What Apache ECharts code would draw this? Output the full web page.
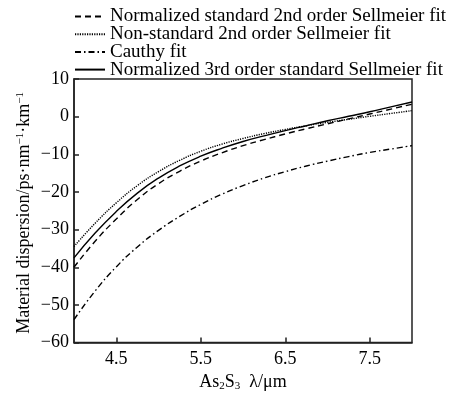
<!DOCTYPE html>
<html><head><meta charset="utf-8">
<script src="https://cdn.jsdelivr.net/npm/echarts@6/dist/echarts.min.js"></script>
<style>html,body{margin:0;padding:0;background:#fff}#c{width:456px;height:397px}</style>
</head><body><div id="c"></div>
<script>
const wavelengths = [4.0, 4.25, 4.5, 4.75, 5.0, 5.25, 5.5, 5.75, 6.0, 6.25, 6.5, 6.75, 7.0, 7.25, 7.5, 7.75, 8.0];
const normStd2nd = [-40.0, -33.1, -27.2, -22.0, -17.8, -14.5, -11.8, -9.6, -7.7, -6.1, -4.6, -3.2, -1.9, -0.6, 0.7, 2.0, 3.3];
const nonStd2nd  = [-34.5, -28.3, -22.9, -18.3, -14.6, -11.6, -9.2, -7.3, -5.8, -4.5, -3.4, -2.4, -1.5, -0.7, 0.1, 0.85, 1.6];
const cauchy     = [-53.9, -46.3, -39.9, -34.6, -30.2, -26.5, -23.3, -20.6, -18.3, -16.3, -14.6, -13.1, -11.8, -10.6, -9.5, -8.6, -7.7];
const normStd3rd = [-37.5, -30.9, -25.2, -20.3, -16.3, -13.1, -10.5, -8.4, -6.6, -5.1, -3.7, -2.4, -1.1, 0.1, 1.3, 2.6, 3.9];
const seriesNames = [
  'Normalized standard 2nd order Sellmeier fit',
  'Non-standard 2nd order Sellmeier fit',
  'Cauthy fit',
  'Normalized 3rd order standard Sellmeier fit'
];
const xTicks = [4.5, 5.5, 6.5, 7.5];

const FONT = 'Liberation Serif';
const pair = arr => wavelengths.map((x, i) => [x, arr[i]]);
const mk = (name, data, type, w) => ({
  name, type: 'line', data: pair(data), smooth: 0.5, symbol: 'none',
  lineStyle: { color: '#000', width: w, type }, itemStyle: { color: '#000' }
});

const chart = echarts.init(document.getElementById('c'));
chart.setOption({
  animation: false,
  backgroundColor: '#fff',
  grid: { left: 74, right: 44, top: 79, bottom: 50, show: true, borderColor: '#222', borderWidth: 1.5 },
  legend: {
    orient: 'vertical', left: 69, top: 2, itemWidth: 30, itemHeight: 10, itemGap: -1.3,
    itemStyle: { opacity: 0 },
    textStyle: { fontFamily: FONT, fontSize: 19, color: '#000' },
    data: seriesNames
  },
  xAxis: {
    type: 'value', min: 4, max: 8,
    name: 'As{s|2}S{s|3}  λ/μm', nameLocation: 'middle', nameGap: 28,
    nameTextStyle: { fontFamily: FONT, fontSize: 18, color: '#000',
      rich: { s: { fontFamily: FONT, fontSize: 11, color: '#000', verticalAlign: 'bottom', padding: [8, 0, 0, 0] } } },
    axisLine: { onZero: false, lineStyle: { color: '#222', width: 1.5 } },
    axisTick: { inside: true, length: 5, lineStyle: { color: '#222', width: 1.5 }, customValues: xTicks },
    axisLabel: { fontFamily: FONT, fontSize: 18, color: '#000', margin: 8, customValues: xTicks,
      formatter: v => v.toFixed(1) },
    splitLine: { show: false }
  },
  yAxis: {
    type: 'value', min: -60, max: 10, interval: 10,
    axisLine: { show: true, onZero: false, lineStyle: { color: '#222', width: 1.5 } },
    axisTick: { show: true, inside: true, length: 5, lineStyle: { color: '#222', width: 1.5 } },
    axisLabel: { fontFamily: FONT, fontSize: 18, color: '#000', margin: 5,
      formatter: v => (v < 0 ? '\u2212' + Math.abs(v) : String(v)) },
    splitLine: { show: false }
  },
  graphic: [{
    type: 'text', left: 15, top: 92, rotation: Math.PI / 2, silent: true,
    style: {
      text: 'Material dispersion/ps·nm{p|−1}·km{p|−1}',
      font: '18px "Liberation Serif"', fill: '#000',
      rich: { p: { fontFamily: FONT, fontSize: 11, fill: '#000', verticalAlign: 'top', padding: [0, 0, 8, 0] } }
    }
  }],
  series: [
    mk(seriesNames[0], normStd2nd, [6, 4], 1.4),
    mk(seriesNames[1], nonStd2nd, [1.2, 1.2], 1.4),
    mk(seriesNames[2], cauchy, [6, 3, 1.5, 3], 1.4),
    mk(seriesNames[3], normStd3rd, 'solid', 1.4)
  ]
});
</script></body></html>
